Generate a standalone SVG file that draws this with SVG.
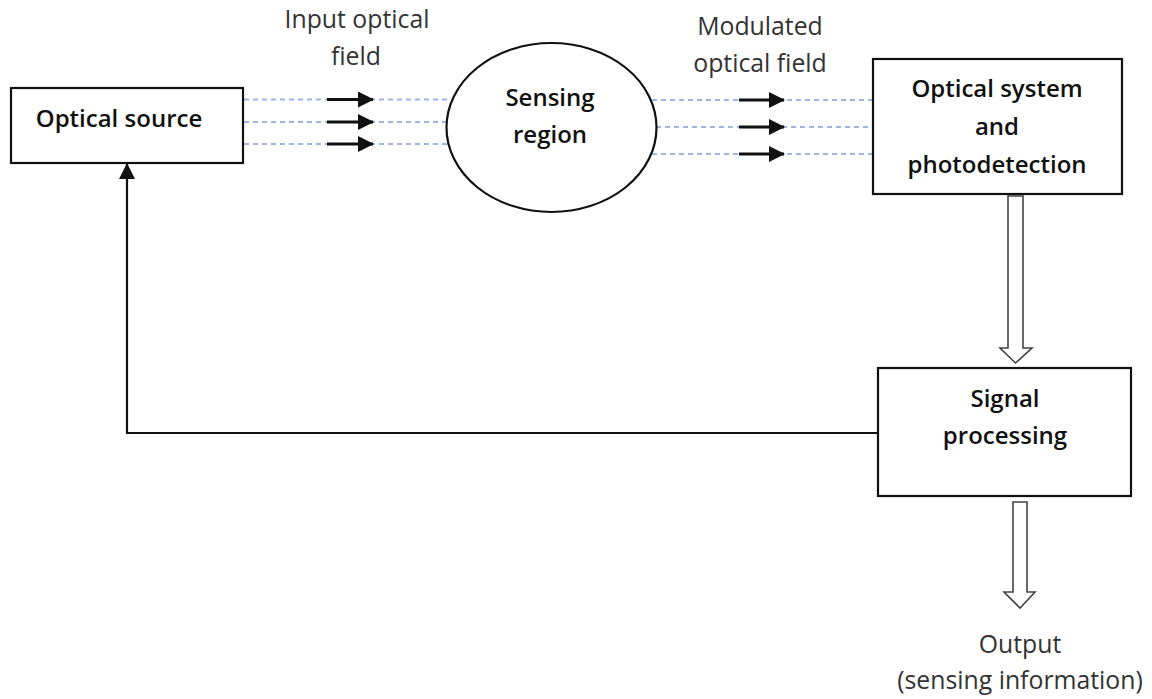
<svg xmlns="http://www.w3.org/2000/svg" width="1152" height="699" viewBox="0 0 1152 699">
  <style>
    .box { fill: #ffffff; stroke: #111111; stroke-width: 2.2; }
    .bold { font-family: "Open Sans", "Liberation Sans", sans-serif; font-weight: 600; font-size: 24px; fill: #111111; text-anchor: middle; }
    .label { font-family: "Open Sans", "Liberation Sans", sans-serif; font-weight: 400; font-size: 24.8px; fill: #333333; text-anchor: middle; }
    .beam { stroke: #9db6e3; stroke-width: 2; stroke-dasharray: 5 4; fill: none; }
    .ray { stroke: #111111; stroke-width: 2.8; fill: none; marker-end: url(#head); }
    .hollow { fill: #ffffff; stroke: #444444; stroke-width: 1.6; stroke-linejoin: miter; }
    .feedback { stroke: #111111; stroke-width: 2.2; fill: none; marker-end: url(#head); }
  </style>
  <defs>
    <marker id="head" viewBox="0 0 16 16" refX="15" refY="8" markerWidth="16" markerHeight="16" markerUnits="userSpaceOnUse" orient="auto">
      <path d="M0,0 L16,8 L0,16 Z" fill="#111111"/>
    </marker>
  </defs>

  <rect width="1152" height="699" fill="#ffffff"/>

  <!-- connectors -->
  <g id="connectors">
    <!-- input optical field -->
    <line class="beam" x1="244" y1="99.5" x2="448" y2="99.5"/>
    <line class="beam" x1="244" y1="122" x2="446" y2="122"/>
    <line class="beam" x1="244" y1="144" x2="448" y2="144"/>
    <line class="ray" x1="327" y1="99.5" x2="373" y2="99.5"/>
    <line class="ray" x1="327" y1="122" x2="373" y2="122"/>
    <line class="ray" x1="327" y1="144" x2="373" y2="144"/>
    <!-- modulated optical field -->
    <line class="beam" x1="652" y1="100" x2="872" y2="100"/>
    <line class="beam" x1="656" y1="127" x2="872" y2="127"/>
    <line class="beam" x1="652" y1="154" x2="872" y2="154"/>
    <line class="ray" x1="739" y1="100" x2="784" y2="100"/>
    <line class="ray" x1="739" y1="127" x2="784" y2="127"/>
    <line class="ray" x1="739" y1="154" x2="784" y2="154"/>
    <!-- detection to processing -->
    <path class="hollow" d="M1008,196 L1023,196 L1023,348 L1032,348 L1015.5,363 L1000,348 L1008,348 Z"/>
    <!-- processing to output -->
    <path class="hollow" d="M1013,502 L1027,502 L1027,592 L1035,592 L1020,608 L1004,592 L1013,592 Z"/>
    <!-- feedback to source -->
    <polyline class="feedback" points="878,433 127,433 127,164"/>
  </g>

  <g id="optical-source">
    <rect class="box" x="11" y="88" width="232" height="75"/>
    <text class="bold" x="119" y="127">Optical source</text>
  </g>

  <g id="input-label">
    <text class="label" x="357" y="28">Input optical</text>
    <text class="label" x="356" y="65">field</text>
  </g>

  <g id="sensing-region">
    <ellipse fill="#ffffff" stroke="#111111" stroke-width="2.2" cx="551.5" cy="127.5" rx="105" ry="84.5"/>
    <text class="bold" x="550" y="106">Sensing</text>
    <text class="bold" x="550" y="143">region</text>
  </g>

  <g id="modulated-label">
    <text class="label" x="760" y="35">Modulated</text>
    <text class="label" x="760" y="72">optical field</text>
  </g>

  <g id="optical-system">
    <rect class="box" x="873" y="59" width="249" height="135"/>
    <text class="bold" x="997" y="97">Optical system</text>
    <text class="bold" x="997" y="135">and</text>
    <text class="bold" x="997" y="173">photodetection</text>
  </g>

  <g id="signal-processing">
    <rect class="box" x="878" y="368" width="253" height="128"/>
    <text class="bold" x="1005" y="407">Signal</text>
    <text class="bold" x="1005" y="444">processing</text>
  </g>

  <g id="output-label">
    <text class="label" x="1020" y="653">Output</text>
    <text class="label" x="1020" y="689">(sensing information)</text>
  </g>
</svg>
